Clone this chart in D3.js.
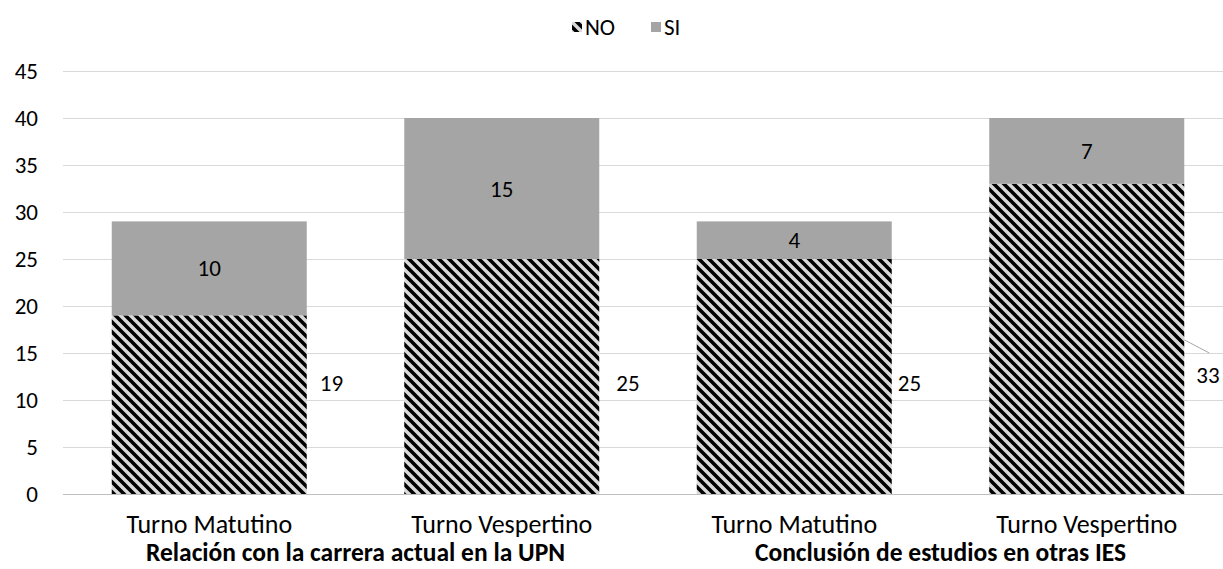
<!DOCTYPE html>
<html>

<head>
  <title>NO / SI</title>
  <style type="text/css">
    body {
      margin: 0;
      background: #fff;
    }

    svg {
      font-family: Carlito, Calibri, Lato, sans-serif;
    }
  </style>
</head>

<body>
  <div id="chart"></div>
  <script type="text/javascript" src="https://cdn.jsdelivr.net/npm/d3@7"></script>
  <script type="text/javascript">
    // data
    var categories = ["Turno Matutino", "Turno Vespertino", "Turno Matutino", "Turno Vespertino"];
    var groups = ["Relación con la carrera actual en la UPN", "Conclusión de estudios en otras IES"];
    var seriesNames = ["NO", "SI"];
    var noValues = [19, 25, 25, 33];
    var siValues = [10, 15, 4, 7];
    var yTicks = [0, 5, 10, 15, 20, 25, 30, 35, 40, 45];

    var w = 1223,
      h = 569;

    var rows = categories.map(function (c, i) {
      return { i: i, cat: c, NO: noValues[i], SI: siValues[i] };
    });

    var svg = d3.select("#chart").append("svg")
      .attr("width", w)
      .attr("height", h);

    var defs = svg.append("defs");
    var pat = defs.append("pattern")
      .attr("id", "stripes")
      .attr("patternUnits", "userSpaceOnUse")
      .attr("width", 10)
      .attr("height", 10);
    pat.append("rect").attr("width", 10).attr("height", 10).attr("fill", "#d9d9d9");
    pat.append("path")
      .attr("d", "M-2,-2L12,12M-2,8L2,12M8,-2L12,2")
      .attr("stroke", "#000")
      .attr("stroke-width", 3.6);

    var x = d3.scaleBand()
      .domain(d3.range(categories.length))
      .range([63, 1233])
      .paddingInner(1 / 3)
      .paddingOuter(1 / 6);

    var y = d3.scaleLinear()
      .domain([0, 45])
      .range([494, 71]);

    // gridlines
    svg.append("g").selectAll("line")
      .data(yTicks)
      .enter().append("line")
      .attr("x1", x.range()[0])
      .attr("x2", x.range()[1])
      .attr("y1", function (d) { return Math.round(y(d)) + 0.5; })
      .attr("y2", function (d) { return Math.round(y(d)) + 0.5; })
      .attr("stroke", function (d) { return d === 0 ? "#bfbfbf" : "#d9d9d9"; })
      .attr("stroke-width", 1);

    // y axis labels
    svg.append("g").selectAll("text")
      .data(yTicks)
      .enter().append("text")
      .attr("x", 38)
      .attr("y", function (d) { return y(d); })
      .attr("dy", "0.35em")
      .attr("text-anchor", "end")
      .attr("font-size", 23)
      .attr("fill", "#000")
      .text(function (d) { return d; });

    var stack = d3.stack().keys(seriesNames)(rows);

    var fills = { NO: "url(#stripes)", SI: "#a5a5a5" };

    svg.append("g").selectAll("g")
      .data(stack)
      .enter().append("g")
      .attr("fill", function (s) { return fills[s.key]; })
      .selectAll("rect")
      .data(function (s) { return s; })
      .enter().append("rect")
      .attr("x", function (d) { return x(d.data.i); })
      .attr("width", x.bandwidth())
      .attr("y", function (d) { return y(d[1]); })
      .attr("height", function (d) { return y(d[0]) - y(d[1]); });

    // SI labels, centred in their segment
    svg.append("g").selectAll("text")
      .data(stack[1])
      .enter().append("text")
      .attr("x", function (d) { return x(d.data.i) + x.bandwidth() / 2; })
      .attr("y", function (d) { return y((d[0] + d[1]) / 2); })
      .attr("dy", "0.35em")
      .attr("text-anchor", "middle")
      .attr("font-size", 23)
      .text(function (d) { return d.data.SI; });

    // NO labels, set beside the bars
    var noLabelDx = [13, 17, 6, 12];
    var noLabelAt = [11.8, 11.8, 11.8, 12.7];
    svg.append("g").selectAll("text")
      .data(rows)
      .enter().append("text")
      .attr("x", function (d) { return x(d.i) + x.bandwidth() + noLabelDx[d.i]; })
      .attr("y", function (d) { return y(noLabelAt[d.i]); })
      .attr("dy", "0.35em")
      .attr("font-size", 23)
      .text(function (d) { return d.NO; });

    // leader line for the last label
    var last = rows.length - 1;
    svg.append("path")
      .attr("d", d3.line()([
        [x(last) + x.bandwidth(), y(16.4)],
        [x(last) + x.bandwidth() + 25, y(15)]
      ]))
      .attr("stroke", "#a6a6a6")
      .attr("fill", "none");

    // category labels
    svg.append("g").selectAll("text")
      .data(rows)
      .enter().append("text")
      .attr("x", function (d) { return x(d.i) + x.bandwidth() / 2; })
      .attr("y", 524)
      .attr("dy", "0.35em")
      .attr("text-anchor", "middle")
      .attr("font-size", 26)
      .text(function (d) { return d.cat; });

    // group labels
    svg.append("g").selectAll("text")
      .data(groups)
      .enter().append("text")
      .attr("x", function (d, i) {
        return (x(i * 2) + x(i * 2 + 1) + x.bandwidth()) / 2;
      })
      .attr("y", 552)
      .attr("dy", "0.35em")
      .attr("text-anchor", "middle")
      .attr("font-size", 25.5)
      .attr("font-weight", "bold")
      .text(function (d) { return d; });

    // legend
    var legend = svg.append("g").selectAll("g")
      .data(seriesNames)
      .enter().append("g")
      .attr("transform", function (d, i) { return "translate(" + (572 + i * 79) + ",27)"; });
    legend.append("rect")
      .attr("x", 0)
      .attr("y", -5)
      .attr("width", 10)
      .attr("height", 10)
      .attr("fill", function (d) { return fills[d]; });
    legend.append("text")
      .attr("x", 13)
      .attr("dy", "0.35em")
      .attr("font-size", 23)
      .text(function (d) { return d; });
  </script>
</body>

</html>
